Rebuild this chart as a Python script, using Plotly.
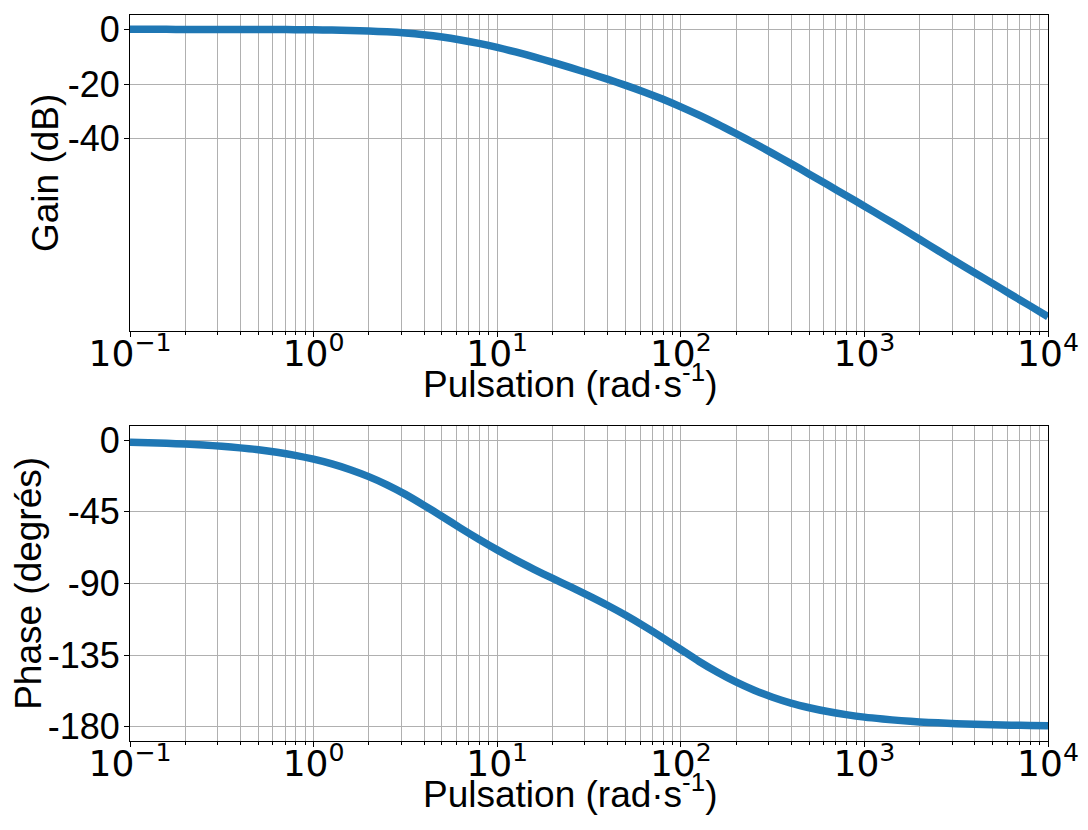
import plotly.graph_objects as go

# Pulsation (rad/s), 10 readings per decade
omega = [0.1, 0.126, 0.158, 0.2, 0.251, 0.316, 0.398, 0.501, 0.631, 0.794,
         1, 1.259, 1.585, 1.995, 2.512, 3.162, 3.981, 5.012, 6.31, 7.943,
         10, 12.59, 15.85, 19.95, 25.12, 31.62, 39.81, 50.12, 63.1, 79.43,
         100, 125.9, 158.5, 199.5, 251.2, 316.2, 398.1, 501.2, 631, 794.3,
         1000, 1259, 1585, 1995, 2512, 3162, 3981, 5012, 6310, 7943, 10000]
# Gain (dB)
gain_db = [0.0, 0.0, 0.0, -0.01, -0.01, -0.02, -0.03, -0.04, -0.06, -0.10,
           -0.16, -0.25, -0.39, -0.60, -0.91, -1.35, -1.97, -2.80, -3.87, -5.12,
           -6.6, -8.25, -10.05, -12.0, -14.0, -16.05, -18.2, -20.45, -22.85, -25.45,
           -28.3, -31.35, -34.6, -38.05, -41.6, -45.3, -49.05, -52.9, -56.8, -60.7,
           -64.6, -68.6, -72.6, -76.7, -80.8, -84.9, -88.9, -92.9, -96.95, -100.95, -105.0]
# Phase (degrees)
phase_deg = [-1.3, -1.55, -1.9, -2.4, -3.0, -3.8, -4.8, -6.0, -7.55, -9.5,
             -11.9, -14.85, -18.5, -22.85, -28.0, -34.0, -40.8, -47.9, -55.2, -62.2,
             -68.9, -75.2, -81.1, -86.7, -92.2, -97.8, -103.7, -110.0, -116.8, -124.0,
             -131.5, -139.0, -145.8, -151.9, -157.1, -161.5, -165.2, -168.1, -170.5, -172.4,
             -174.0, -175.2, -176.2, -177.0, -177.6, -178.1, -178.5, -178.8, -179.05, -179.25, -179.4]

gain_ticks = [0, -20, -40]
phase_ticks = [0, -45, -90, -135, -180]
x_ticks = [0.1, 1, 10, 100, 1000, 10000]
x_ticktext = ["10<sup>\u22121</sup>", "10<sup>0</sup>", "10<sup>1</sup>",
              "10<sup>2</sup>", "10<sup>3</sup>", "10<sup>4</sup>"]
minor_vals = [m * 10 ** e for e in range(-1, 4) for m in range(2, 10)]

COLOR = "#1f77b4"
GRID = "#b0b0b0"
TICKFONT_X = dict(family="DejaVu Sans", size=36, color="black")
TICKFONT_Y = dict(family="Liberation Sans, Arial", size=36, color="black")
LABELFONT = dict(family="Liberation Sans, Arial", size=37, color="black")

fig = go.Figure()
fig.add_trace(go.Scatter(x=omega, y=gain_db, mode="lines",
                         line=dict(color=COLOR, width=7.5, shape="spline", smoothing=0.8),
                         xaxis="x", yaxis="y", showlegend=False))
fig.add_trace(go.Scatter(x=omega, y=phase_deg, mode="lines",
                         line=dict(color=COLOR, width=7.5, shape="spline", smoothing=0.8),
                         xaxis="x2", yaxis="y2", showlegend=False))

xcommon = dict(type="log", range=[-1, 4], tickmode="array", tickvals=x_ticks, ticktext=x_ticktext,
               tickfont=TICKFONT_X, ticks="outside", ticklen=5, tickcolor="black",
               ticklabelstandoff=-14,
               showgrid=True, gridcolor=GRID, gridwidth=1,
               showline=True, linecolor="black", linewidth=1, mirror=True, zeroline=False,
               minor=dict(tickmode="array", tickvals=minor_vals, showgrid=True, gridcolor=GRID,
                          gridwidth=1, ticks="outside", ticklen=3, tickcolor="black"))
ycommon = dict(tickmode="array", tickfont=TICKFONT_Y, ticks="outside", ticklen=5, tickcolor="black",
               ticklabelstandoff=-3,
               showgrid=True, gridcolor=GRID, gridwidth=1, zeroline=False,
               showline=True, linecolor="black", linewidth=1, mirror=True)

# page body adds an 8px margin: shrink the figure so the plot areas land where the reference has them
fig.update_layout(
    width=1080, height=822,
    margin=dict(l=122, r=40, t=1, b=89),
    paper_bgcolor="white", plot_bgcolor="white",
    xaxis=dict(domain=[0, 1], anchor="y", **xcommon),
    yaxis=dict(domain=[0.5646, 1.0], anchor="x", range=[-110.25, 5.25], tickvals=gain_ticks,
               ticktext=[str(v) for v in gain_ticks], **ycommon),
    xaxis2=dict(domain=[0, 1], anchor="y2", **xcommon),
    yaxis2=dict(domain=[0, 0.434], anchor="x2", range=[-189, 9], tickvals=phase_ticks,
                ticktext=[str(v) for v in phase_ticks], **ycommon),
    annotations=[
        dict(text="Gain (dB)", xref="paper", yref="paper", x=-0.0918, y=0.782, textangle=-90,
             showarrow=False, font=LABELFONT, xanchor="center", yanchor="middle"),
        dict(text="Phase (degrés)", xref="paper", yref="paper", x=-0.1105, y=0.2172, textangle=-90,
             showarrow=False, font=LABELFONT, xanchor="center", yanchor="middle"),
        dict(text="Pulsation (rad·s<sup>-1</sup>)", xref="paper", yref="paper", x=0.4793, y=0.4945,
             showarrow=False, font=LABELFONT, xanchor="center", yanchor="middle"),
        dict(text="Pulsation (rad·s<sup>-1</sup>)", xref="paper", yref="paper", x=0.4793, y=-0.0701,
             showarrow=False, font=LABELFONT, xanchor="center", yanchor="middle"),
    ],
)

fig.write_html("out.html")
